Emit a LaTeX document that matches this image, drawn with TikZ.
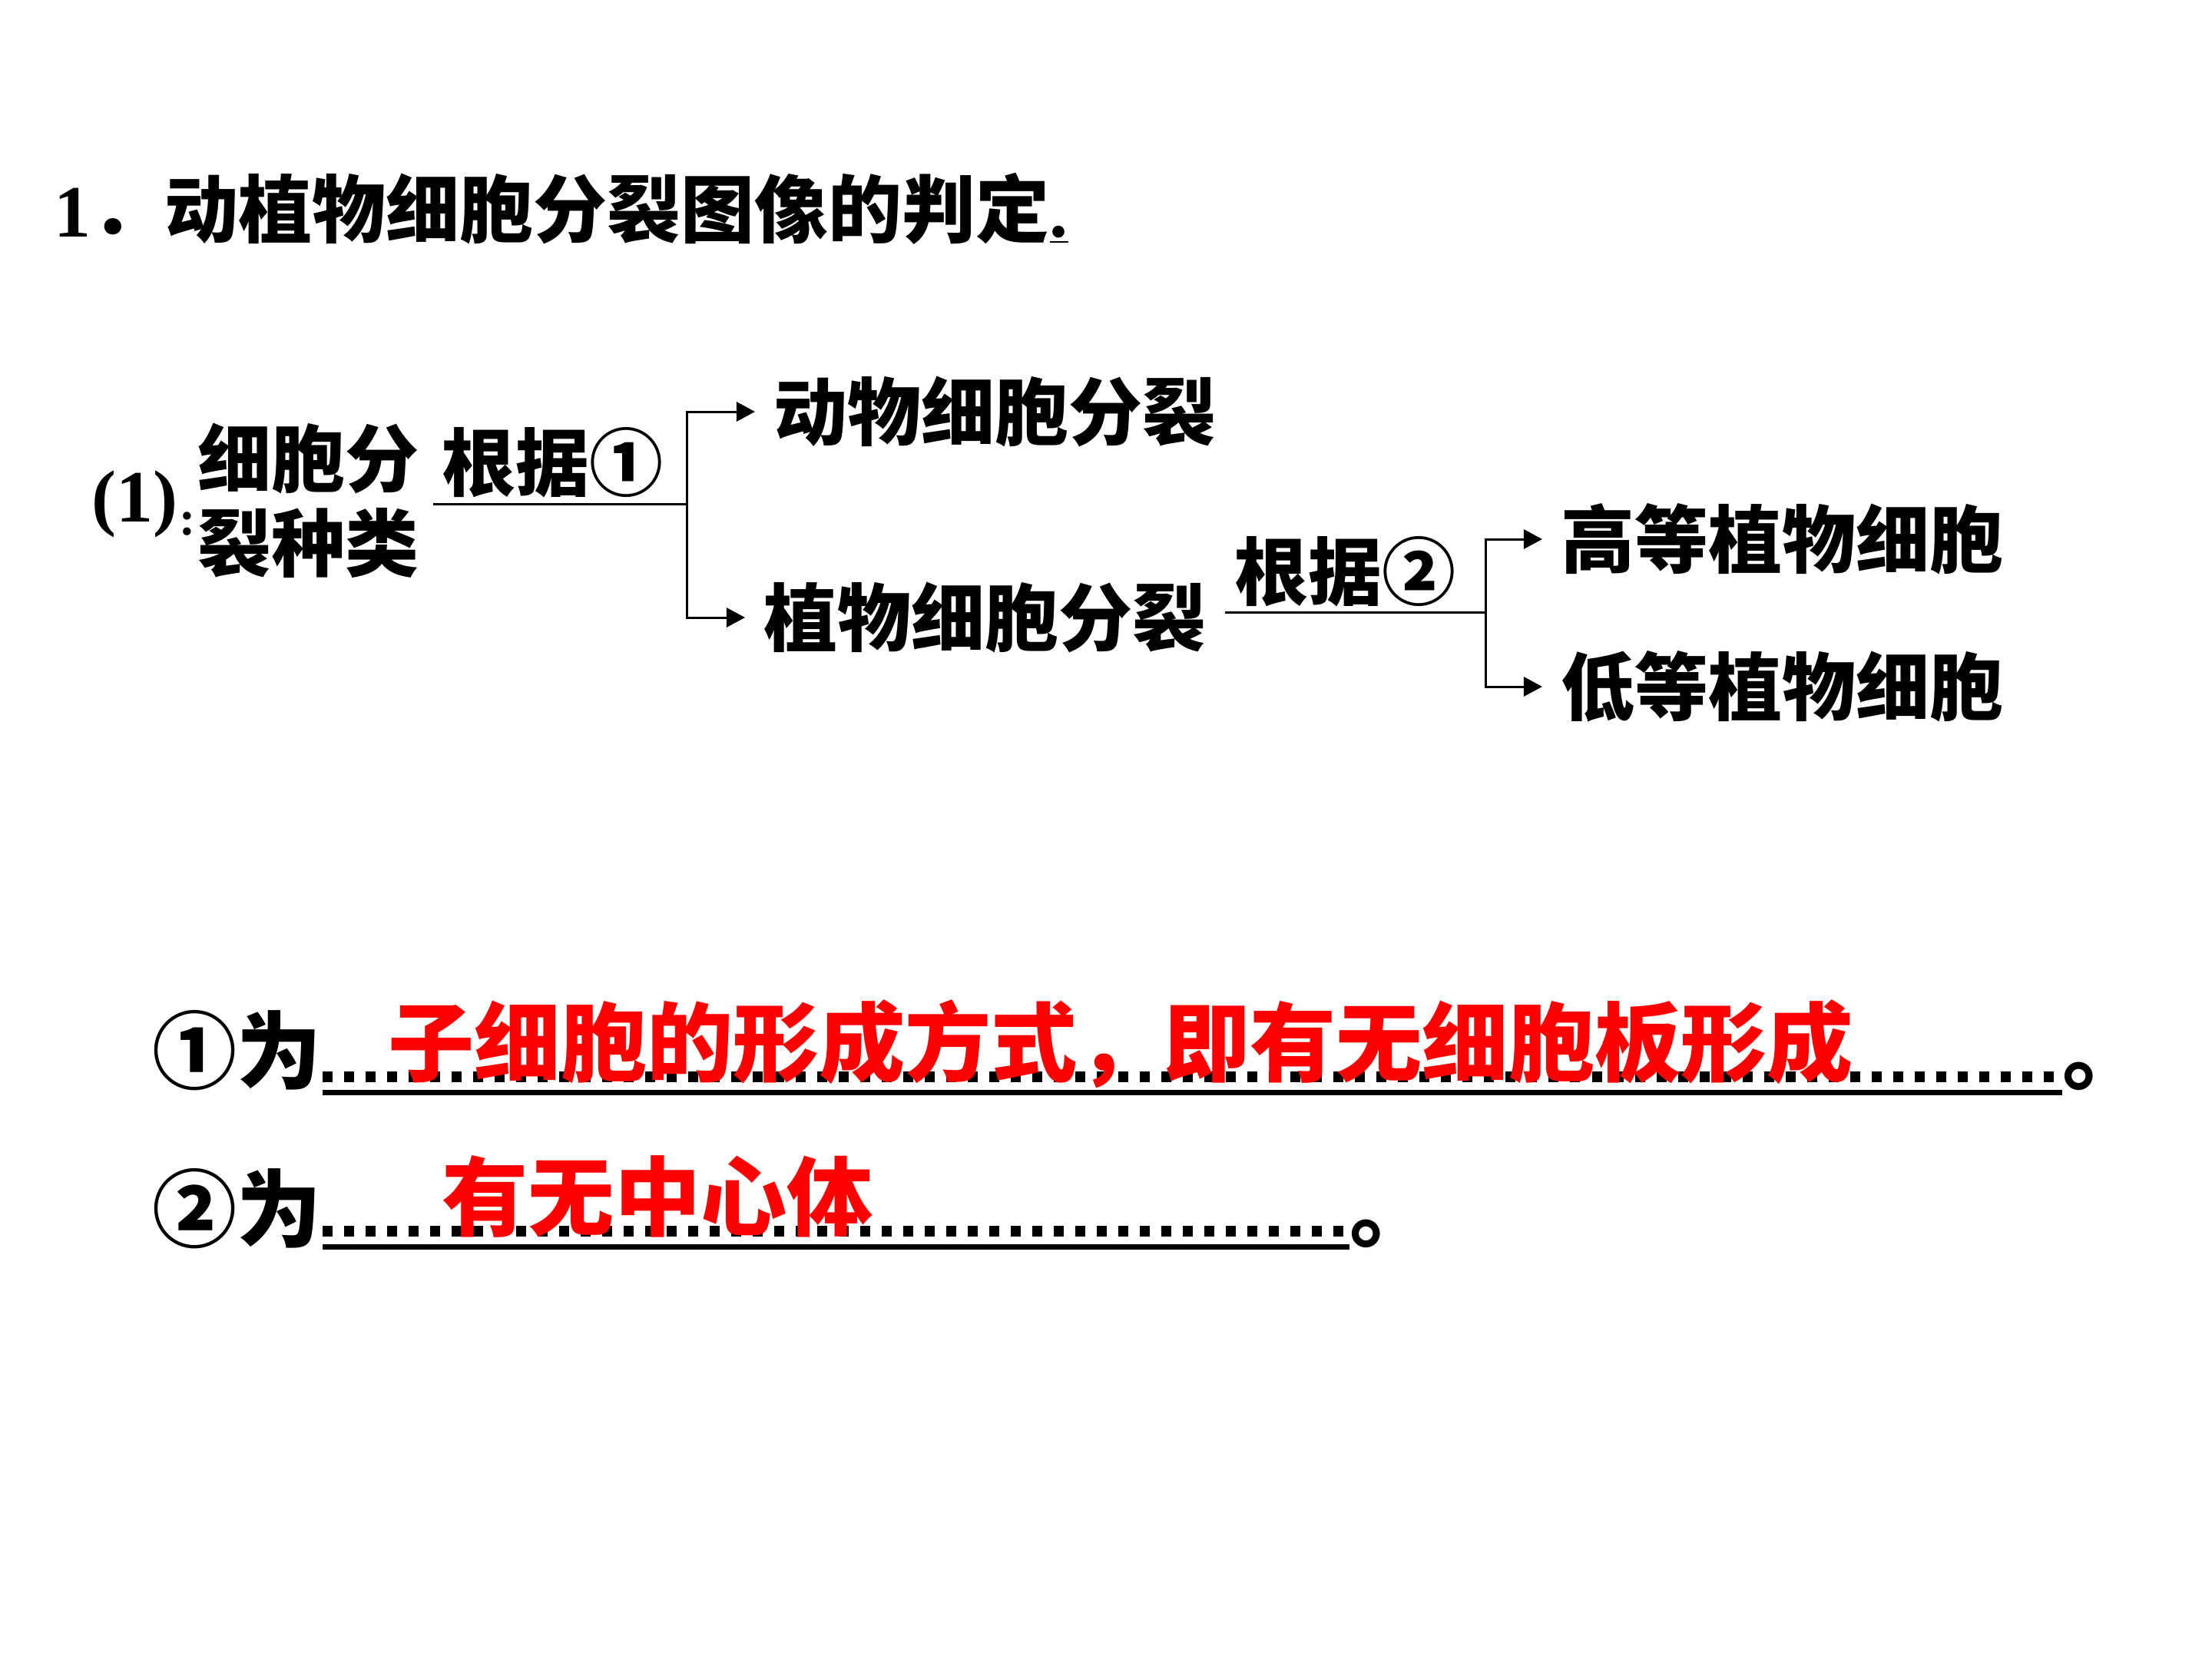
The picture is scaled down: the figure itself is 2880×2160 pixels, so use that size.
\documentclass[tikz,border=0pt]{standalone}
\usepackage{fontspec}
\setmainfont{Liberation Serif}
\newfontfamily\cjk{Noto Sans CJK SC}
\usetikzlibrary{arrows.meta,positioning}
\definecolor{ansred}{RGB}{255,0,0}

\begin{document}
\begin{tikzpicture}[x=0.01cm,y=-0.01cm,
    txt/.style={font=\cjk\bfseries\fontsize{27.3}{31.3}\selectfont,inner sep=0pt,anchor=west},
    big/.style={font=\cjk\bfseries\fontsize{31.3}{36}\selectfont,inner sep=0pt,anchor=west},
    ans/.style={font=\cjk\bfseries\fontsize{31.9}{36}\selectfont,text=ansred,inner sep=0pt,anchor=west},
    branch/.style={txt,inner xsep=0.24cm},
    link/.style={line width=0.03cm},
    arr/.style={link,-{Triangle[length=0.24cm,width=0.25cm]}},
    dotrow/.style={line width=0.14cm,dash pattern=on 0.13cm off 0.15cm},
    underbar/.style={line width=0.07cm}]
    \fill[white] (0,0) rectangle (2880,2160);
    \node[txt] (title) at (70,272) {\rmfamily 1\cjk ．动植物细胞分裂图像的判定\rmfamily\underline{.}};
    \node[txt] (num) at (119,656) {\rmfamily (1)};
    \node[anchor=base west,inner sep=0pt,yshift=-0.17cm,font=\rmfamily\bfseries\fontsize{18}{18}\selectfont] (colon) at (num.base east) {:};
    \node[txt,align=left,inner xsep=0.18cm] (kind) at (239,652) {细胞分\\裂种类};
    \coordinate (j1) at (894,656);
    \node[txt] (rule1) at (575,602) {根据①};
    \node[branch] (animal) at (983,536) {动物细胞分裂};
    \node[branch] (plant) at (970,804) {植物细胞分裂};
    \draw[link] (j1 -| kind.east) -- (j1);
    \draw[arr] (j1) |- (animal.west);
    \draw[arr] (j1) |- (plant.west);
    \coordinate (j2) at (1934,797);
    \node[txt] (rule2) at (1607,744) {根据②};
    \node[branch] (high) at (2008,702) {高等植物细胞};
    \node[branch] (low) at (2008,894) {低等植物细胞};
    \draw[link] (j2 -| plant.east) -- (j2);
    \draw[arr] (j2) |- (high.west);
    \draw[arr] (j2) |- (low.west);
    \node[big] (w1) at (198,1368) {①为};
    \node[big,anchor=base west] (p1) at (2685,1410) {。};
    \draw[dotrow] (w1.east |- 0,1402) -- (p1.west |- 0,1402);
    \draw[underbar] (w1.east |- 0,1422) -- (p1.west |- 0,1422);
    \node[ans] (a1) at (505,1359) {子细胞的形成方式，即有无细胞板形成};
    \node[big] (w2) at (198,1574) {②为};
    \node[big,anchor=base west] (p2) at (1757,1615) {。};
    \draw[dotrow] (w2.east |- 0,1603) -- (p2.west |- 0,1603);
    \draw[underbar] (w2.east |- 0,1623) -- (p2.west |- 0,1623);
    \node[ans] (a2) at (575,1558) {有无中心体};
\end{tikzpicture}
\end{document}
